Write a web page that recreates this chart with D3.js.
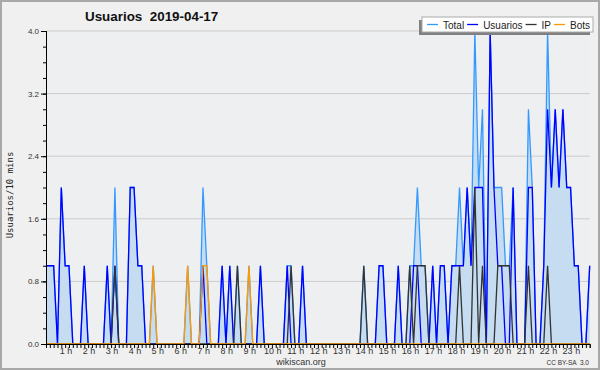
<!DOCTYPE html>
<html>
<head>
<meta charset="utf-8">
<script src="https://cdn.jsdelivr.net/npm/d3@7"></script>
<style>
  body { margin: 0; background: #f0f0f0; }
  svg { display: block; }
</style>
</head>
<body>
<div id="chart"></div>
<script>
var svgWidth = 600;
var svgHeight = 370;

// one value every 10 minutes, from 0:00
var usuarios = [
  1,1,1,0,2,1,1,0,0,0, 1,0,0,0,0,0,1,0,1,0, 0,0,2,2,1,1,0,0,0,0,
  0,0,0,0,0,0,0,0,0,0, 0,1,0,0,0,0,1,0,1,0, 0,0,0,0,0,0,1,0,0,0,
  0,0,0,1,0,0,0,1,0,0, 0,0,0,0,0,0,0,0,0,0, 0,0,0,0,0,0,0,1,1,0,
  0,0,1,0,0,0,1,1,0,0, 0,1,0,1,1,0,1,1,1,1, 2,1,2,2,2,0,4,2,1,1,
  0,0,2,0,0,0,2,2,0,0, 1,3,2,3,2,3,2,2,1,1, 0,0,1
];
var ip = [
  0,0,0,0,0,0,0,0,0,0, 0,0,0,0,0,0,0,0,1,0, 0,0,0,0,0,0,0,0,0,0,
  0,0,0,0,0,0,0,0,0,0, 0,0,0,0,0,0,0,0,0,0, 1,0,0,0,0,0,0,0,0,0,
  0,0,0,0,1,0,0,0,0,0, 0,0,0,0,0,0,0,0,0,0, 0,0,0,1,0,0,0,0,0,0,
  0,0,0,0,0,1,0,1,1,1, 0,0,0,0,0,0,0,0,1,0, 0,0,2,0,1,0,0,0,1,1,
  1,1,0,0,0,0,1,0,0,0, 0,1,0,0,0,0,0,0,0,0, 0,0,0
];
var bots = [
  0,0,0,0,0,0,0,0,0,0, 0,0,0,0,0,0,0,0,0,0, 0,0,0,0,0,0,0,0,1,0,
  0,0,0,0,0,0,0,1,0,0, 0,1,1,0,0,0,0,0,0,0, 0,0,0,1,0,0,0,0,0,0,
  0,0,0,0,0,0,0,0,0,0, 0,0,0,0,0,0,0,0,0,0, 0,0,0,0,0,0,0,0,0,0,
  0,0,0,0,0,0,0,0,0,0, 0,0,0,0,0,0,0,0,0,0, 0,0,0,0,0,0,0,0,0,0,
  0,0,0,0,0,0,0,0,0,0, 0,0,0,0,0,0,0,0,0,0, 0,0,0
];
var total = [
  1,1,1,0,2,1,1,0,0,0, 1,0,0,0,0,0,1,0,2,0, 0,0,2,2,1,1,0,0,1,0,
  0,0,0,0,0,0,0,1,0,0, 0,2,1,0,0,0,1,0,1,0, 1,0,0,1,0,0,1,0,0,0,
  0,0,0,1,1,0,0,1,0,0, 0,0,0,0,0,0,0,0,0,0, 0,0,0,1,0,0,0,1,1,0,
  0,0,1,0,0,1,1,2,1,1, 0,1,0,1,1,0,1,1,2,1, 2,1,4,2,3,0,4,2,2,2,
  1,1,2,0,0,0,3,2,0,0, 1,4,2,3,2,3,2,2,1,1, 0,0,1
];

var yTicks = [0, 0.8, 1.6, 2.4, 3.2, 4.0];
var hourLabels = d3.range(1, 24);
var seriesNames = ["Total", "Usuarios", "IP", "Bots"];
var seriesColors = ["#3399ff", "#0000ff", "#333333", "#ff9900"];

var margin = { top: 31, right: 10, bottom: 26, left: 46 };
var width = 589.7 - margin.left;
var height = 344 - margin.top;

var svg = d3.select("#chart")
    .append("svg")
    .attr("width", svgWidth)
    .attr("height", svgHeight);

svg.append("rect")
    .attr("x", 1).attr("y", 1)
    .attr("width", svgWidth - 2).attr("height", svgHeight - 2)
    .attr("fill", "#f0f0f0")
    .attr("stroke", "#a8a8a8")
    .attr("stroke-width", 2);

var chartGroup = svg.append("g")
    .attr("transform", `translate(${margin.left}, ${margin.top})`);

// scales (x in hours)
var xScale = d3.scaleLinear()
    .domain([0, (usuarios.length - 1) / 6])
    .range([0, width]);

var yScale = d3.scaleLinear()
    .domain([0, 4])
    .range([height, 0]);

chartGroup.append("rect")
    .attr("width", width)
    .attr("height", height)
    .attr("fill", "#eeeff1");

// grid
chartGroup.selectAll(".grid")
    .data(yTicks.slice(1))
    .enter()
    .append("line")
    .attr("x1", 0).attr("x2", width)
    .attr("y1", d => yScale(d)).attr("y2", d => yScale(d))
    .attr("stroke", "#cccccc")
    .attr("stroke-width", 1);

var hours = usuarios.map((d, i) => i / 6);

// area for total
var area = d3.area()
    .x((d, i) => xScale(hours[i]))
    .y0(height)
    .y1(d => yScale(d));

chartGroup.append("path")
    .datum(total)
    .attr("d", area)
    .attr("fill", "#c6dcf0");

var line = d3.line()
    .x((d, i) => xScale(hours[i]))
    .y(d => yScale(d));

[total, usuarios, ip, bots].forEach(function (series, k) {
    chartGroup.append("path")
        .datum(series)
        .attr("d", line)
        .attr("fill", "none")
        .attr("stroke", seriesColors[k])
        .attr("stroke-width", 1.3)
        .attr("stroke-linejoin", "miter");
});

// axes
var leftMinor = d3.axisLeft(yScale)
    .tickValues(d3.range(0, 21).map(d => d * 0.2))
    .tickSize(3)
    .tickFormat("");
chartGroup.append("g").call(leftMinor);

var leftAxis = d3.axisLeft(yScale)
    .tickValues(yTicks)
    .tickSize(5)
    .tickFormat(d3.format(".1f"));
var yAxisG = chartGroup.append("g").call(leftAxis);
yAxisG.selectAll("text")
    .attr("font-family", "Liberation Sans, Arial, sans-serif")
    .attr("font-size", "8px")
    .attr("fill", "#333")
    .attr("x", -7);

var bottomMinor = d3.axisBottom(xScale)
    .tickValues(hours)
    .tickSize(4)
    .tickFormat("");
chartGroup.append("g")
    .attr("transform", `translate(0, ${height})`)
    .call(bottomMinor);

var bottomAxis = d3.axisBottom(xScale)
    .tickValues(hourLabels)
    .tickSize(0)
    .tickFormat(d => d + " h");
var xAxisG = chartGroup.append("g")
    .attr("transform", `translate(0, ${height})`)
    .call(bottomAxis);
xAxisG.select(".domain").remove();
xAxisG.selectAll("text")
    .attr("font-family", "Liberation Sans, Arial, sans-serif")
    .attr("font-size", "9px")
    .attr("fill", "#333")
    .attr("dx", -3.5)
    .attr("y", 4);

chartGroup.selectAll(".domain, .tick line")
    .attr("stroke", "#000");

// titles
svg.append("text")
    .attr("x", 85)
    .attr("y", 21)
    .attr("font-family", "Liberation Sans, Arial, sans-serif")
    .attr("font-size", "13.4px")
    .attr("font-weight", "bold")
    .attr("fill", "#111")
    .style("white-space", "pre")
    .text("Usuarios  2019-04-17");

svg.append("text")
    .attr("transform", "translate(13, 195) rotate(-90)")
    .attr("text-anchor", "middle")
    .attr("font-family", "DejaVu Sans Mono, monospace")
    .attr("font-size", "9px")
    .attr("fill", "#222")
    .text("Usuarios/10 mins");

svg.append("text")
    .attr("x", 301)
    .attr("y", 365)
    .attr("text-anchor", "middle")
    .attr("font-family", "Liberation Sans, Arial, sans-serif")
    .attr("font-size", "9px")
    .attr("fill", "#333")
    .text("wikiscan.org");

svg.append("text")
    .attr("x", 589)
    .attr("y", 365)
    .attr("text-anchor", "end")
    .attr("font-family", "Liberation Sans, Arial, sans-serif")
    .attr("font-size", "6.5px")
    .attr("fill", "#333")
    .style("white-space", "pre")
    .text("CC BY-SA  3.0");

// legend
var legend = svg.append("g");
legend.append("rect")
    .attr("x", 419).attr("y", 20)
    .attr("width", 171).attr("height", 15)
    .attr("fill", "#808080");
legend.append("rect")
    .attr("x", 422).attr("y", 17)
    .attr("width", 171).attr("height", 15)
    .attr("fill", "#ffffff")
    .attr("stroke", "#aaaaaa")
    .attr("stroke-width", 1);

var lx = 427;
seriesNames.forEach(function (name, k) {
    legend.append("line")
        .attr("x1", lx).attr("x2", lx + 11)
        .attr("y1", 24.5).attr("y2", 24.5)
        .attr("stroke", seriesColors[k])
        .attr("stroke-width", 1.3);
    var t = legend.append("text")
        .attr("x", lx + 16)
        .attr("y", 28.5)
        .attr("font-family", "Liberation Sans, Arial, sans-serif")
        .attr("font-size", "10px")
        .attr("fill", "#222")
        .text(name);
    lx = lx + 16 + t.node().getComputedTextLength() + 3;
});
</script>
</body>
</html>
